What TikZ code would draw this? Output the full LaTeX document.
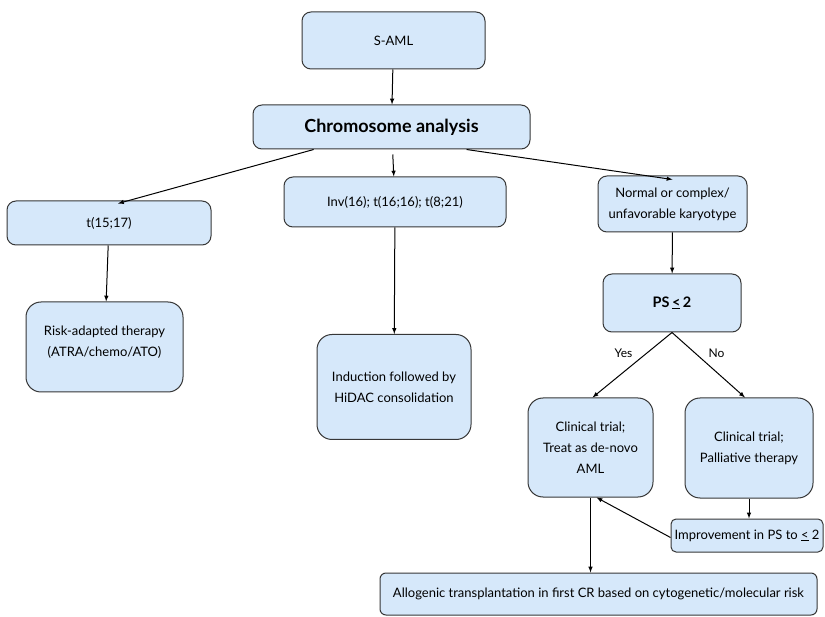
\documentclass[tikz,border=0pt]{standalone}
\usepackage{fontspec}
\setmainfont{Lato}
\usepackage{xcolor}
\usetikzlibrary{arrows,calc,positioning}
\definecolor{boxblue}{RGB}{214,232,250}
\definecolor{boxline}{RGB}{55,55,55}

\begin{document}
\begin{tikzpicture}[x=1pt,y=-1pt,>=latex,line width=1pt,
		box/.style={draw=boxline,fill=boxblue,rounded corners=9pt,align=center,inner sep=0pt,font=\fontsize{13}{21}\selectfont},
		tallbox/.style={box,rounded corners=15pt},
		boldbox/.style={box,font=\fontsize{18}{21}\selectfont\bfseries}]
		\useasboundingbox (0,0) rectangle (825,617);
		\node[box,minimum width=183,minimum height=57] (00) at (393.5,40.5) {S-AML};
		\node[boldbox,minimum width=277,minimum height=44] (10) at (391.5,127) {Chromosome analysis};
		\node[box,minimum width=204,minimum height=44] (20) at (109,223) {t(15;17)};
		\node[box,minimum width=222,minimum height=50] (21) at (395,202) {Inv(16); t(16;16); t(8;21)};
		\node[box,minimum width=149,minimum height=56] (22) at (672.5,204) {Normal or complex/\\unfavorable karyotype};
		\node[tallbox,minimum width=157,minimum height=90] (30) at (104.5,347) {Risk-adapted therapy\\(ATRA/chemo/ATO)\\[-9pt]\mbox{}};
		\node[tallbox,minimum width=154,minimum height=105] (31) at (394,387) {Induction followed by\\HiDAC consolidation};
		\node[boldbox,font=\fontsize{14.5}{16}\selectfont\bfseries,minimum width=138,minimum height=58] (32) at (672,303) {PS\,\underline{<}\,2};
		\node[tallbox,minimum width=125,minimum height=99] (42) at (590.5,447.5) {Clinical trial;\\Treat as de-novo\\AML};
		\node[tallbox,minimum width=128,minimum height=100] (43) at (749,448) {Clinical trial;\\Palliative therapy};
		\node[box,rounded corners=5pt,minimum width=152,minimum height=33] (53) at (747,535.5) {Improvement in PS to \underline{<} 2};
		\node[box,rounded corners=6pt,minimum width=437,minimum height=42] (62) at (598.5,594) {Allogenic transplantation in first CR based on cytogenetic/molecular risk};
		\draw[->] (00) to (10);
		\draw[->] ($(10.south west)!.22!(10.south east)$) to ([xshift=9pt,yshift=-3pt]20.north);
		\draw[->,shorten <=5pt] (10) to (21);
		\draw[->] ($(10.south west)!.77!(10.south east)$) to ([yshift=-4pt]22.north);
		\draw[->] (20) to (30);
		\draw[->] (21) to (31);
		\draw[->] (22) to (32);
		\draw[->] (32.south) to node[pos=.45,above left] (yes) {\fontsize{12}{14}\selectfont Yes} ([xshift=2pt]42.north);
		\draw[->] (32.south) to node[pos=.45,above right] (no) {\fontsize{12}{14}\selectfont No} ([xshift=-4pt]43.north);
		\draw[->] (43.south) to (43.south |- 53.north);
		\draw[->] ([yshift=-2pt]53.west) to ([xshift=6pt]42.south);
		\draw[->] (42.south) to (42.south |- 62.north);
	\end{tikzpicture}
\end{document}
